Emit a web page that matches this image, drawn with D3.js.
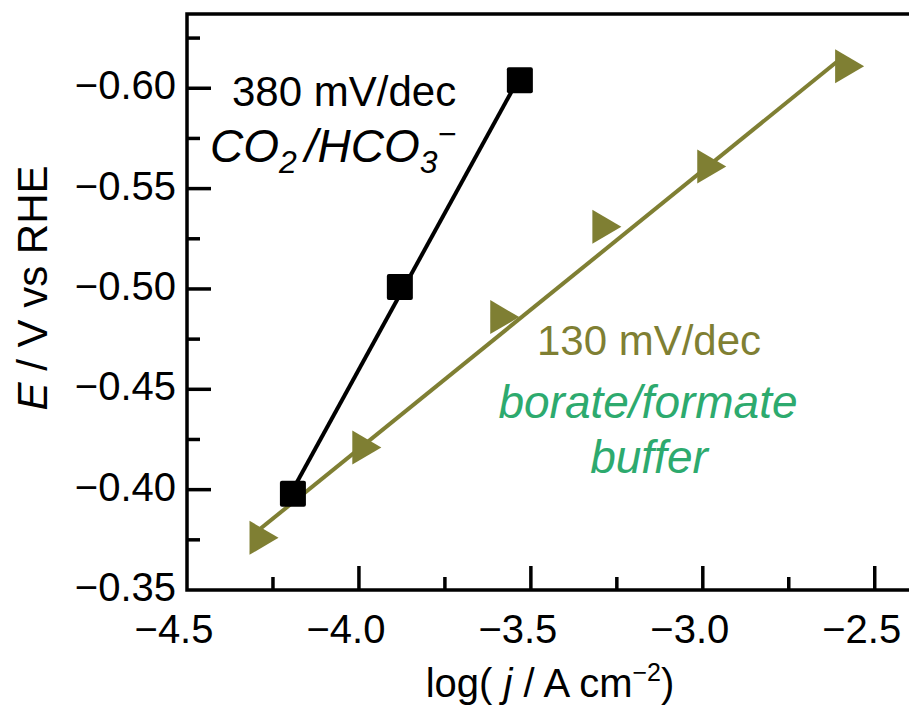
<!DOCTYPE html>
<html>
<head>
<meta charset="utf-8">
<script src="https://cdnjs.cloudflare.com/ajax/libs/d3/7.8.5/d3.min.js"></script>
<style>
  body { margin: 0; background: #fff; }
  svg text { font-family: "Liberation Sans", Arial, sans-serif; }
</style>
</head>
<body>
<svg id="chart" width="909" height="705"></svg>
<script>
// data
var squareX = [-4.192, -3.881, -3.532];
var squareY = [-0.398, -0.501, -0.604];
var triX = [-4.276, -3.977, -3.576, -3.279, -2.974, -2.573];
var triY = [-0.376, -0.421, -0.486, -0.531, -0.561, -0.611];
var triFitX = [-4.302, -2.61];
var xTicks = [-4.5, -4.0, -3.5, -3.0, -2.5];
var xMinor = [-4.25, -3.75, -3.25, -2.75];
var yTicks = [-0.60, -0.55, -0.50, -0.45, -0.40, -0.35];
var yMinor = [-0.625, -0.575, -0.525, -0.475, -0.425, -0.375];

var olive = '#7f7f33';
var green = '#2daa6e';

var svg = d3.select('#chart');

var x = d3.scaleLinear().domain([-4.5, -2.38]).range([187, 916]);
var y = d3.scaleLinear().domain([-0.35, -0.637]).range([590, 14]);

// least squares fit
function fit(xs, ys) {
    var mx = d3.mean(xs), my = d3.mean(ys);
    var sxy = d3.sum(xs, function(v, i) { return (v - mx) * (ys[i] - my); });
    var sxx = d3.sum(xs, function(v) { return (v - mx) * (v - mx); });
    var b = sxy / sxx;
    return function(v) { return my + b * (v - mx); };
}

var line = d3.line()
    .x(function(d) { return x(d[0]); })
    .y(function(d) { return y(d[1]); });

// frame
svg.append('rect')
    .attr('x', x(-4.5)).attr('y', y(-0.637))
    .attr('width', x(-2.38) - x(-4.5))
    .attr('height', y(-0.35) - y(-0.637))
    .attr('fill', 'none').attr('stroke', '#000').attr('stroke-width', 3.5);

// ticks (inward)
var gx = svg.append('g');
gx.selectAll('.xmaj').data(xTicks.slice(1)).enter().append('line')
    .attr('x1', d => x(d)).attr('x2', d => x(d))
    .attr('y1', y(-0.35)).attr('y2', y(-0.35) - 24)
    .attr('stroke', '#000').attr('stroke-width', 3.5);
gx.selectAll('.xmin').data(xMinor).enter().append('line')
    .attr('x1', d => x(d)).attr('x2', d => x(d))
    .attr('y1', y(-0.35)).attr('y2', y(-0.35) - 13)
    .attr('stroke', '#000').attr('stroke-width', 3.5);
gx.selectAll('.xlab').data(xTicks).enter().append('text')
    .attr('x', d => x(d) - 13).attr('y', 643)
    .attr('text-anchor', 'middle').attr('font-size', 40)
    .text(d => d3.format('.1f')(d).replace('-', '\u2212'));

var gy = svg.append('g');
gy.selectAll('.ymaj').data(yTicks.slice(0, -1)).enter().append('line')
    .attr('x1', x(-4.5)).attr('x2', x(-4.5) + 24)
    .attr('y1', d => y(d)).attr('y2', d => y(d))
    .attr('stroke', '#000').attr('stroke-width', 3.5);
gy.selectAll('.ymin').data(yMinor).enter().append('line')
    .attr('x1', x(-4.5)).attr('x2', x(-4.5) + 13)
    .attr('y1', d => y(d)).attr('y2', d => y(d))
    .attr('stroke', '#000').attr('stroke-width', 3.5);
gy.selectAll('.ylab').data(yTicks).enter().append('text')
    .attr('x', 176).attr('y', d => y(d) + 11)
    .attr('text-anchor', 'end').attr('font-size', 40)
    .text(d => d3.format('.2f')(d).replace('-', '\u2212'));

// olive series
var fT = fit(triX, triY);
svg.append('path')
    .attr('d', line(triFitX.map(v => [v, fT(v)])))
    .attr('fill', 'none').attr('stroke', olive).attr('stroke-width', 4);
svg.selectAll('.tri').data(triX).enter().append('path')
    .attr('transform', (d, i) => 'translate(' + x(d) + ',' + y(triY[i]) + ')')
    .attr('d', 'M14.5,0 L-14.5,-17 L-14.5,17 Z')
    .attr('fill', olive);

// black series
var fS = fit(squareX, squareY);
svg.append('path')
    .attr('d', line([squareX[0], squareX[2]].map(v => [v, fS(v)])))
    .attr('fill', 'none').attr('stroke', '#000').attr('stroke-width', 4);
svg.selectAll('.sq').data(squareX).enter().append('rect')
    .attr('x', d => x(d) - 13).attr('y', (d, i) => y(squareY[i]) - 13)
    .attr('width', 26).attr('height', 26).attr('rx', 2)
    .attr('fill', '#000');

// annotations
svg.append('text').attr('x', 232).attr('y', 106)
    .attr('font-size', 42).text('380 mV/dec');
var t2 = svg.append('text').attr('x', 210).attr('y', 162)
    .attr('font-size', 46).attr('font-style', 'italic');
t2.append('tspan').text('CO');
t2.append('tspan').attr('font-size', 32).attr('dy', 11).text('2');
t2.append('tspan').attr('dy', -11).attr('dx', 8).text('/HCO');
t2.append('tspan').attr('font-size', 32).attr('dy', 11).text('3');
t2.append('tspan').attr('font-size', 32).attr('dy', -28).text('\u2212');

svg.append('text').attr('x', 649).attr('y', 355)
    .attr('text-anchor', 'middle').attr('font-size', 42)
    .attr('fill', olive).text('130 mV/dec');
svg.append('text').attr('x', 648).attr('y', 418)
    .attr('text-anchor', 'middle').attr('font-size', 46)
    .attr('font-style', 'italic').attr('fill', green).text('borate/formate');
svg.append('text').attr('x', 649).attr('y', 473)
    .attr('text-anchor', 'middle').attr('font-size', 46)
    .attr('font-style', 'italic').attr('fill', green).text('buffer');

// axis titles
var xt = svg.append('text').attr('x', 550).attr('y', 697)
    .attr('text-anchor', 'middle').attr('font-size', 40);
xt.append('tspan').text('log( ');
xt.append('tspan').attr('font-style', 'italic').text('j');
xt.append('tspan').text(' / A cm');
xt.append('tspan').attr('font-size', 25).attr('dy', -16).text('\u22122');
xt.append('tspan').attr('dy', 16).text(')');

var yt = svg.append('text')
    .attr('transform', 'translate(47,288) rotate(-90)')
    .attr('text-anchor', 'middle').attr('font-size', 42);
yt.append('tspan').attr('font-style', 'italic').text('E');
yt.append('tspan').text(' / V vs RHE');
</script>
</body>
</html>
